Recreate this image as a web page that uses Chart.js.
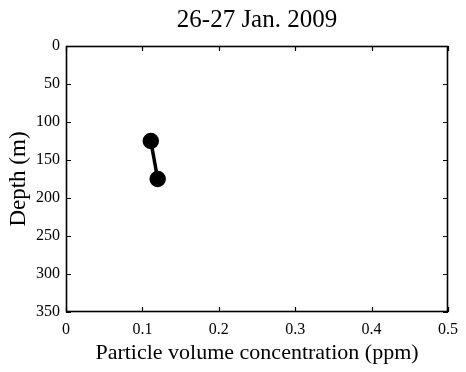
<!DOCTYPE html>
<html><head><meta charset="utf-8">
<script src="https://cdn.jsdelivr.net/npm/chart.js@4/dist/chart.umd.min.js"></script>
<style>html,body{margin:0;padding:0;background:#fff}#w{width:466px;height:372px}</style>
</head><body><div id="w"><canvas id="c"></canvas></div>
<script>
const titleText = "26-27 Jan. 2009";
const concentration = [0.111, 0.120];
const depth = [125, 175];
const xTicks = [0, 0.1, 0.2, 0.3, 0.4, 0.5];
const yTicks = [0, 50, 100, 150, 200, 250, 300, 350];
const xLabel = "Particle volume concentration (ppm)";
const yLabel = "Depth (m)";

const FONT = "'Liberation Serif', 'Times New Roman', serif";

const boxPlugin = {
  id: 'box',
  afterDraw(chart) {
    const ctx = chart.ctx, a = chart.chartArea;
    const xs = chart.scales.x, ys = chart.scales.y;
    ctx.save();
    ctx.strokeStyle = '#000';
    ctx.lineWidth = 1.6;
    ctx.strokeRect(a.left + 0.5, a.top + 0.5, a.right - a.left - 1, a.bottom - a.top - 1);
    ctx.beginPath();
    ctx.lineWidth = 1.2;
    const L = 5;
    xTicks.forEach(v => {
      const px = Math.round(xs.getPixelForValue(v)) + 0.5;
      ctx.moveTo(px, a.bottom); ctx.lineTo(px, a.bottom - L);
      ctx.moveTo(px, a.top); ctx.lineTo(px, a.top + L);
    });
    yTicks.forEach(v => {
      const py = Math.round(ys.getPixelForValue(v)) + 0.5;
      ctx.moveTo(a.left, py); ctx.lineTo(a.left + L, py);
      ctx.moveTo(a.right, py); ctx.lineTo(a.right - L, py);
    });
    ctx.stroke();
    ctx.restore();
  }
};

new Chart(document.getElementById('c'), {
  type: 'line',
  data: {
    datasets: [{
      data: concentration.map((x, i) => ({x: x, y: depth[i]})),
      borderColor: '#000',
      backgroundColor: '#000',
      borderWidth: 3.5,
      pointRadius: 6.5,
      pointBackgroundColor: '#000',
      pointBorderColor: '#000',
      fill: false,
      tension: 0
    }]
  },
  plugins: [boxPlugin],
  options: {
    responsive: true,
    maintainAspectRatio: false,
    animation: false,
    layout: { padding: { left: 0, right: 15, top: 0, bottom: 0 } },
    plugins: {
      legend: { display: false },
      tooltip: { enabled: false },
      title: {
        display: true,
        fullSize: false,
        text: titleText,
        color: '#000',
        font: { family: FONT, size: 25, weight: 'normal' },
        padding: { top: 5, bottom: 11 }
      }
    },
    scales: {
      x: {
        type: 'linear',
        min: 0, max: 0.5,
        afterBuildTicks: s => { s.ticks = xTicks.map(v => ({value: v})); },
        afterFit: s => { s.height = 60; },
        grid: { display: false, drawTicks: false },
        border: { display: false },
        ticks: {
          color: '#000',
          font: { family: FONT, size: 16 },
          padding: 8,
          maxRotation: 0,
          callback: v => String(Math.round(v * 10) / 10)
        },
        title: {
          display: true, text: xLabel, color: '#000',
          font: { family: FONT, size: 22 },
          padding: { top: 2, bottom: 6 }
        }
      },
      y: {
        type: 'linear',
        reverse: true,
        min: 0, max: 350,
        afterBuildTicks: s => { s.ticks = yTicks.map(v => ({value: v})); },
        afterFit: s => { s.width = 66; },
        grid: { display: false, drawTicks: false },
        border: { display: false },
        ticks: {
          color: '#000',
          font: { family: FONT, size: 16 },
          padding: 6,
          callback: v => String(v)
        },
        title: {
          display: true, text: yLabel, color: '#000',
          font: { family: FONT, size: 23 },
          padding: { top: 5, bottom: 2 }
        }
      }
    }
  }
});
</script>
</body></html>
